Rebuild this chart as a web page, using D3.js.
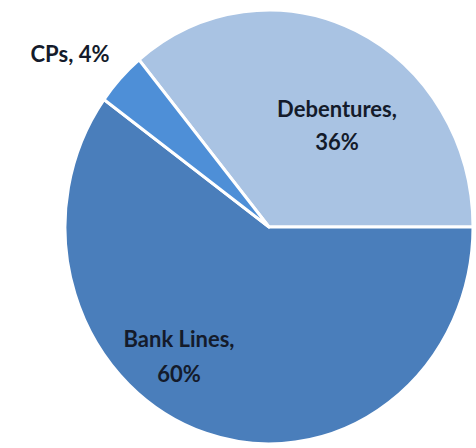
<!DOCTYPE html>
<html>
<head>
<meta charset="utf-8">
<script src="https://cdn.jsdelivr.net/npm/d3@7"></script>
<style>
  html, body { margin: 0; padding: 0; background: #fff; }
  svg { display: block; }
  .lbl { font-family: Lato, "Open Sans", sans-serif; font-weight: 700; fill: #141b2b; }
</style>
</head>
<body>
<svg id="chart" width="476" height="448"></svg>
<script>
// Funding mix
const categories = ["Debentures", "Bank Lines", "CPs"];
const shares = [36, 60, 4];
const colors = ["#a9c3e3", "#4a7ebb", "#4e8fd7"];

const width = 476, height = 448;
const cx = 269, cy = 227, rx = 204, ry = 217;

const svg = d3.select("#chart");

// first slice starts in the upper left and ends at 3 o'clock
const start = -0.22 * Math.PI;
const pie = d3.pie()
  .sort(null)
  .value(d => d.value)
  .startAngle(start)
  .endAngle(start + 2 * Math.PI);

const data = categories.map((c, i) => ({ name: c, value: shares[i], color: colors[i] }));
const arcs = pie(data);

const arc = d3.arc().innerRadius(0).outerRadius(rx);

// pie is drawn slightly taller than wide
const g = svg.append("g")
  .attr("transform", `translate(${cx},${cy}) scale(1,${ry / rx})`);

g.selectAll("path")
  .data(arcs)
  .join("path")
  .attr("d", arc)
  .attr("fill", d => d.data.color)
  .attr("stroke", "#ffffff")
  .attr("stroke-width", 3)
  .attr("stroke-linejoin", "round");

// label offsets from the pie centre
const labelLayout = {
  "Debentures": { dx: 68, dy: -110, split: true, lh: 33 },
  "Bank Lines": { dx: -90, dy: 120, split: true, lh: 35 },
  "CPs": { dx: -199, dy: -165, split: false, lh: 0 }
};

const labels = svg.append("g");
arcs.forEach(a => {
  const L = labelLayout[a.data.name];
  const lines = L.split
    ? [a.data.name + ",", a.data.value + "%"]
    : [a.data.name + ", " + a.data.value + "%"];
  const t = labels.append("text")
    .attr("class", "lbl")
    .attr("text-anchor", "middle")
    .attr("font-size", 22)
    .attr("x", cx + L.dx)
    .attr("y", cy + L.dy);
  lines.forEach((ln, i) => {
    t.append("tspan")
      .attr("x", cx + L.dx)
      .attr("dy", i === 0 ? 0 : L.lh)
      .text(ln);
  });
});
</script>
</body>
</html>
